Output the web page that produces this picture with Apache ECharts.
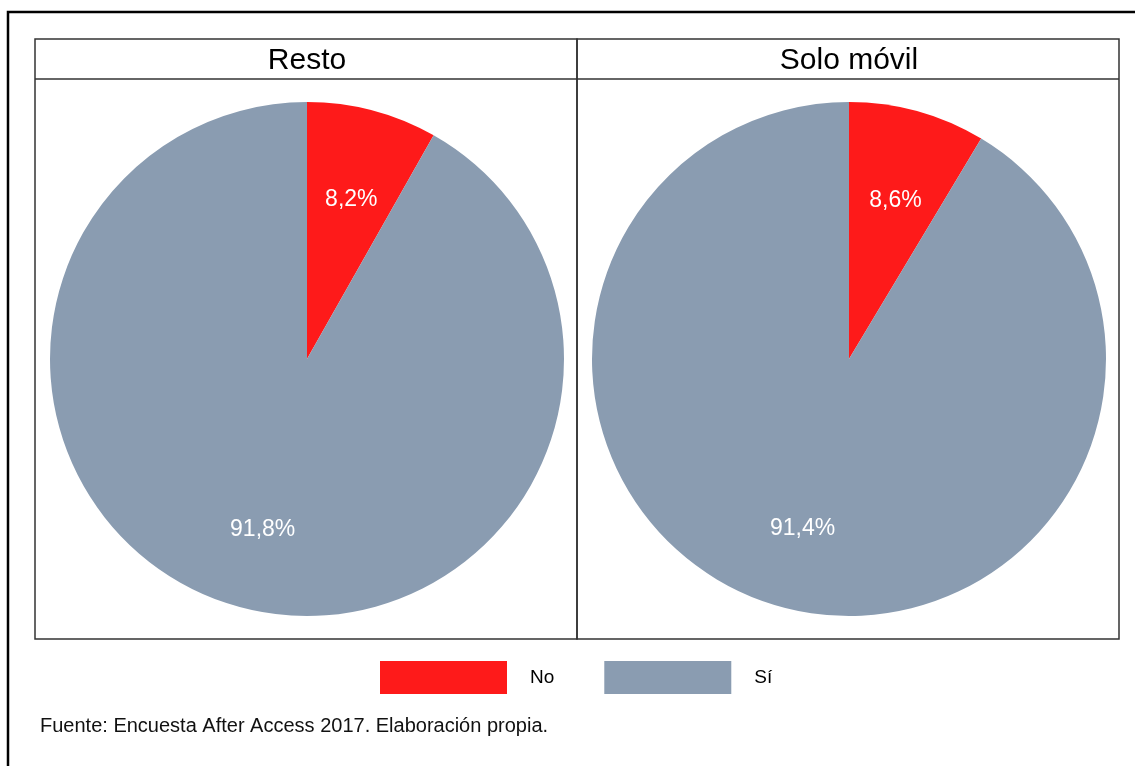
<!DOCTYPE html>
<html>
<head>
<meta charset="utf-8">
<script src="https://cdn.jsdelivr.net/npm/echarts@6/dist/echarts.min.js"></script>
<style>
  html, body { margin: 0; padding: 0; background: #fff; }
  #main { width: 1135px; height: 766px; }
</style>
</head>
<body>
<div id="main"></div>
<script>
// datos
var categories = ['No', 'Sí'];
var panels = ['Resto', 'Solo móvil'];
var restoValues = [8.2, 91.8];
var movilValues = [8.6, 91.4];
var sourceText = 'Fuente: Encuesta After Access 2017. Elaboración propia.';

var colors = ['#fe1a1a', '#8a9cb1'];
var labelOffsets = [[0, 9], [0, 2]];
var font = '"Liberation Sans", Arial, Helvetica, sans-serif';

function toData(values, withOffset) {
  return categories.map(function (c, i) {
    var d = { name: c, value: values[i] };
    if (withOffset) d.label = { offset: labelOffsets[i] };
    return d;
  });
}
function fmt(p) {
  return p.value.toFixed(1).replace('.', ',') + '%';
}

var centers = [[307, 359], [849, 359]];
var allValues = [restoValues, movilValues];

var series = [];
// tartas
allValues.forEach(function (vals, i) {
  series.push({
    type: 'pie',
    center: centers[i],
    radius: [0, 257],
    startAngle: 90,
    silent: true,
    label: { show: false },
    labelLine: { show: false },
    itemStyle: { borderWidth: 0 },
    data: toData(vals, false)
  });
});
// etiquetas (anillo transparente para colocar el texto mas afuera)
allValues.forEach(function (vals, i) {
  series.push({
    type: 'pie',
    center: centers[i],
    radius: [86, 256],
    startAngle: 90,
    silent: true,
    itemStyle: { color: 'rgba(0,0,0,0)', borderWidth: 0 },
    label: {
      show: true,
      position: 'inside',
      formatter: fmt,
      color: '#fff',
      fontSize: 23,
      fontFamily: font
    },
    labelLine: { show: false },
    data: toData(vals, true)
  });
});

var myChart = echarts.init(document.getElementById('main'));
var option = {
  color: colors,
  animation: false,
  title: panels.map(function (t, i) {
    return {
      text: t,
      left: centers[i][0],
      top: 61,
      padding: 0,
      textAlign: 'center',
      textVerticalAlign: 'middle',
      textStyle: { fontSize: 30, fontWeight: 'normal', color: '#000', fontFamily: font }
    };
  }),
  legend: {
    left: 380,
    top: 661,
    padding: 0,
    itemWidth: 127,
    itemHeight: 33,
    itemGap: 50,
    icon: 'rect',
    selectedMode: false,
    data: categories.map(function (c, i) { return { name: c, itemStyle: { color: colors[i] } }; }),
    textStyle: { fontSize: 19, color: '#000', fontFamily: font, padding: [6, 0, 0, 18] }
  },
  graphic: [
    // marco exterior
    { type: 'polyline', shape: { points: [[8, 766], [8, 12], [1135, 12]] }, style: { stroke: '#000', lineWidth: 2.5, fill: null } },
    // paneles
    { type: 'rect', shape: { x: 35, y: 39, width: 542, height: 600 }, style: { stroke: '#333', lineWidth: 1.5, fill: null } },
    { type: 'rect', shape: { x: 577, y: 39, width: 542, height: 600 }, style: { stroke: '#333', lineWidth: 1.5, fill: null } },
    { type: 'line', shape: { x1: 35, y1: 79, x2: 1119, y2: 79 }, style: { stroke: '#333', lineWidth: 1.5 } },
    {
      type: 'text', left: 40, top: 716,
      style: { text: sourceText, fontSize: 20, fill: '#111', fontFamily: font }
    }
  ],
  series: series
};
myChart.setOption(option);
</script>
</body>
</html>
